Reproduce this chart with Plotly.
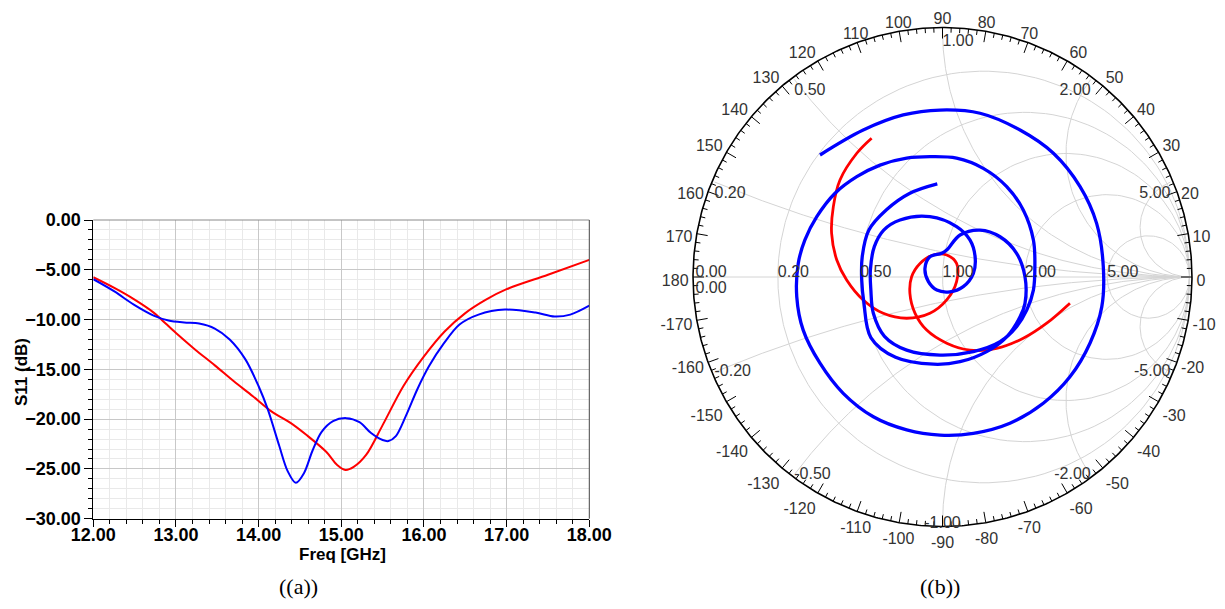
import numpy as np
import plotly.graph_objects as go

# ---------------- panel (a): S11 (dB) vs frequency ----------------
freq_red = [12.0, 12.26, 12.49, 12.73, 12.82, 13.0, 13.23, 13.47, 13.7, 13.93, 14.15, 14.39, 14.58,
            14.82, 14.95, 15.05, 15.15, 15.3, 15.5, 15.75, 16.0, 16.25, 16.5, 16.75, 17.0, 17.5, 18.0]
s11_red = [-5.75, -6.85, -7.95, -9.3, -9.96, -11.36, -13.0, -14.6, -16.2, -17.7, -19.2, -20.4, -21.6,
           -23.3, -24.6, -25.1, -24.8, -23.6, -20.6, -16.7, -13.7, -11.2, -9.35, -8.0, -6.95, -5.5, -4.0]

freq_blue = [12.0, 12.26, 12.49, 12.73, 12.91, 13.1, 13.28, 13.47, 13.65, 13.84, 14.0, 14.11, 14.25,
             14.35, 14.45, 14.55, 14.65, 14.76, 14.9, 15.06, 15.22, 15.36, 15.5, 15.57, 15.66, 15.78,
             15.92, 16.06, 16.24, 16.43, 16.66, 16.98, 17.35, 17.58, 17.77, 18.0]
s11_blue = [-5.95, -7.2, -8.5, -9.6, -10.1, -10.3, -10.4, -10.9, -12.0, -14.0, -16.7, -19.0, -22.7,
            -25.2, -26.4, -25.4, -23.2, -21.3, -20.2, -19.9, -20.3, -21.4, -22.1, -22.2, -21.7, -19.7,
            -17.0, -14.7, -12.4, -10.5, -9.5, -9.0, -9.3, -9.7, -9.5, -8.6]

freq_ticks = [12, 13, 14, 15, 16, 17, 18]
s11_ticks = [0, -5, -10, -15, -20, -25, -30]

# ---------------- panel (b): Smith chart (reflection coefficient) ----------------
blue_re = [-0.496, -0.321, -0.159, -0.010, 0.152, 0.314, 0.449, 0.557, 0.624, 0.651,
           0.645, 0.597, 0.516, 0.408, 0.273, 0.125, -0.010, -0.145, -0.280, -0.402,
           -0.496, -0.564, -0.590, -0.584, -0.557, -0.509, -0.435, -0.347, -0.253, -0.145,
           -0.051, 0.057, 0.165, 0.260, 0.327, 0.368, 0.374, 0.368, 0.341, 0.300,
           0.233, 0.125, -0.010, -0.145, -0.235, -0.280, -0.290, -0.292, -0.276, -0.238,
           -0.172, -0.051, 0.057, 0.111, 0.132, 0.125, 0.084, 0.030, -0.023, -0.057,
           -0.071, -0.051, -0.003, 0.017, 0.071, 0.152, 0.233, 0.300, 0.334, 0.334,
           0.314, 0.260, 0.179, 0.071, -0.037, -0.190, -0.290, -0.318, -0.327, -0.325,
           -0.298, -0.228, -0.132, -0.021]
blue_im = [0.494, 0.595, 0.656, 0.676, 0.663, 0.595, 0.501, 0.366, 0.217, 0.042,
           -0.120, -0.268, -0.404, -0.511, -0.592, -0.633, -0.640, -0.619, -0.566, -0.471,
           -0.349, -0.215, -0.080, 0.055, 0.150, 0.244, 0.339, 0.406, 0.453, 0.481,
           0.487, 0.481, 0.440, 0.366, 0.271, 0.150, 0.042, -0.053, -0.134, -0.201,
           -0.262, -0.302, -0.316, -0.296, -0.240, -0.147, -0.053, 0.028, 0.123, 0.190,
           0.231, 0.244, 0.204, 0.150, 0.082, 0.015, -0.039, -0.060, -0.053, -0.019,
           0.035, 0.082, 0.096, 0.109, 0.170, 0.190, 0.163, 0.096, 0.001, -0.106,
           -0.161, -0.242, -0.302, -0.343, -0.353, -0.325, -0.245, -0.106, -0.012, 0.082,
           0.190, 0.271, 0.339, 0.377]

red_re = [-0.287, -0.347, -0.415, -0.442, -0.449, -0.428, -0.388, -0.321, -0.240, -0.145,
          -0.051, 0.017, 0.057, 0.057, 0.017, -0.037, -0.091, -0.125, -0.132, -0.111,
          -0.064, 0.017, 0.111, 0.219, 0.327, 0.422, 0.516]
red_im = [0.562, 0.501, 0.393, 0.285, 0.177, 0.069, -0.012, -0.093, -0.147, -0.167,
          -0.147, -0.093, -0.019, 0.055, 0.089, 0.089, 0.055, 0.001, -0.066, -0.147,
          -0.215, -0.268, -0.296, -0.289, -0.248, -0.187, -0.106]

smith_r_ticks = [0.2, 0.5, 1.0, 2.0, 5.0]
smith_x_ticks = [0.2, 0.5, 1.0, 2.0, 5.0]
angle_ticks = list(range(-170, 190, 10))

# ---------------- geometry / styling ----------------
OFF = 8                                  # page body margin of the html page
W, H = 1225 - 2 * OFF, 609 - 2 * OFF     # figure size so the page does not overflow
CX, CY, SC = 942.5 - OFF, 277.0 - OFF, 247.0   # smith centre (px in figure) and px per unit
RING = 1.01
GRID = "#d4d4d4"
LBL = dict(family="Liberation Sans, Arial, sans-serif", size=16, color="#333333")


def px(X):
    return (X - OFF) / W


def py(Y):
    return 1 - (Y - OFF) / H


def z2g(z):
    return (z - 1) / (z + 1)


fig = go.Figure()

# ---- panel (a) curves
fig.add_trace(go.Scatter(x=freq_red, y=s11_red, mode="lines",
                         line=dict(color="#ff0000", width=2, shape="spline", smoothing=0.9),
                         hoverinfo="skip", xaxis="x", yaxis="y"))
fig.add_trace(go.Scatter(x=freq_blue, y=s11_blue, mode="lines",
                         line=dict(color="#0000ff", width=2, shape="spline", smoothing=0.9),
                         hoverinfo="skip", xaxis="x", yaxis="y"))

# ---- panel (b) grid
sweep = np.concatenate([-np.logspace(3, -3, 300), [0.0], np.logspace(-3, 3, 300)])
rpos = np.concatenate([[0.0], np.logspace(-3, 3.5, 400)])
gx, gy = [], []
for r in smith_r_ticks:
    g = z2g(r + 1j * sweep)
    gx += list(g.real) + [None]
    gy += list(g.imag) + [None]
for x in smith_x_ticks + [-v for v in smith_x_ticks]:
    g = z2g(rpos + 1j * x)
    gx += list(g.real) + [None]
    gy += list(g.imag) + [None]
gx += [-1.0, 1.0, None]
gy += [0.0, 0.0, None]
fig.add_trace(go.Scatter(x=gx, y=gy, mode="lines", line=dict(color=GRID, width=1),
                         hoverinfo="skip", xaxis="x2", yaxis="y2"))

# ---- panel (b) curves
fig.add_trace(go.Scatter(x=red_re, y=red_im, mode="lines",
                         line=dict(color="#ff0000", width=2.8, shape="spline", smoothing=1.0),
                         hoverinfo="skip", xaxis="x2", yaxis="y2"))
fig.add_trace(go.Scatter(x=blue_re, y=blue_im, mode="lines",
                         line=dict(color="#0000ff", width=3.3, shape="spline", smoothing=1.0),
                         hoverinfo="skip", xaxis="x2", yaxis="y2"))

# ---- outer ring with ticks
th = np.linspace(0, 2 * np.pi, 721)
fig.add_trace(go.Scatter(x=RING * np.cos(th), y=RING * np.sin(th), mode="lines",
                         line=dict(color="#000000", width=1.6), hoverinfo="skip",
                         xaxis="x2", yaxis="y2"))
tx, ty = [], []
for a in range(-178, 182, 2):
    t = np.deg2rad(a)
    ln = 11.0 / SC if a % 10 == 0 else 5.0 / SC
    tx += [RING * np.cos(t), (RING - ln) * np.cos(t), None]
    ty += [RING * np.sin(t), (RING - ln) * np.sin(t), None]
fig.add_trace(go.Scatter(x=tx, y=ty, mode="lines", line=dict(color="#000000", width=1),
                         hoverinfo="skip", xaxis="x2", yaxis="y2"))

# ---- angle labels
DY_ANG = -5.0 / SC
ax_, ay_, at_, ap_ = [], [], [], []
for a in angle_ticks:
    t = np.deg2rad(a)
    c, s = np.cos(t), np.sin(t)
    ax_.append(1.028 * c)
    ay_.append(1.028 * s + DY_ANG)
    at_.append(str(a))
    hz = "right" if c > 0.4 else ("left" if c < -0.4 else "center")
    vt = "top" if s > 0.4 else ("bottom" if s < -0.4 else "middle")
    ap_.append(vt + " " + hz)
fig.add_trace(go.Scatter(x=ax_, y=ay_, mode="text", text=at_, textposition=ap_,
                         textfont=LBL, cliponaxis=False, hoverinfo="skip",
                         xaxis="x2", yaxis="y2"))

# ---- resistance / reactance labels
DY_LBL = -4.0 / SC
lx, ly, lt, lp = [], [], [], []
for r in [0.0] + smith_r_ticks:
    g = z2g(complex(r, 0))
    lx.append(g.real); ly.append(DY_LBL); lt.append(f"{r:.2f}"); lp.append("top right")
g = z2g(0j)
lx.append(g.real); ly.append(DY_LBL); lt.append("0.00"); lp.append("bottom right")
for x in smith_x_ticks:
    g = z2g(1j * x)
    lx.append(g.real); ly.append(g.imag + DY_LBL); lt.append(f"{x:.2f}")
    lp.append("bottom right" if x <= 1 else "bottom left")
    g = z2g(-1j * x)
    lx.append(g.real); ly.append(g.imag); lt.append(f"{-x:.2f}")
    lp.append("middle right" if x < 1 else ("middle center" if x == 1 else "middle left"))
fig.add_trace(go.Scatter(x=lx, y=ly, mode="text", text=lt, textposition=lp,
                         textfont=LBL, cliponaxis=False, hoverinfo="skip",
                         xaxis="x2", yaxis="y2"))

# ---------------- layout ----------------
x2dom = [0.52, 1.0]
x2range = [-(CX - x2dom[0] * W) / SC, (x2dom[1] * W - CX) / SC]
y2range = [-(H - CY) / SC, CY / SC]

tickfont = dict(family="Liberation Sans, Arial, sans-serif", size=18, color="#000000", weight="bold")
titlefont = dict(family="Liberation Sans, Arial, sans-serif", size=17, color="#000000", weight="bold")
capfont = dict(family="Liberation Serif, DejaVu Serif, serif", size=22, color="#000000")

fig.update_layout(
    width=W, height=H, template="none",
    margin=dict(l=0, r=0, t=0, b=0, pad=0),
    paper_bgcolor="white", plot_bgcolor="white", showlegend=False,
    xaxis=dict(domain=[px(93.3), px(589.3)], range=[12, 18], tickvals=freq_ticks, tickformat=".2f",
               ticks="outside", ticklen=7, tickwidth=1, tickcolor="#000000", ticklabelstandoff=-7,
               showline=True, linecolor="#000000", linewidth=1, mirror=False,
               showgrid=True, gridcolor="#c8c8c8", gridwidth=1, zeroline=False,
               minor=dict(dtick=0.2, tick0=12, ticks="outside", ticklen=4, tickcolor="#000000",
                          showgrid=True, gridcolor="#e9e9e9"),
               tickfont=tickfont, automargin=False, fixedrange=True, anchor="y"),
    yaxis=dict(domain=[py(518.7), py(220)], range=[-30, 0], tickvals=s11_ticks, tickformat=".2f",
               ticks="outside", ticklen=8, tickwidth=1, tickcolor="#000000",
               showline=True, linecolor="#000000", linewidth=1, mirror=False,
               showgrid=True, gridcolor="#c8c8c8", gridwidth=1, zeroline=False,
               minor=dict(dtick=1, tick0=0, ticks="outside", ticklen=4, tickcolor="#000000",
                          showgrid=True, gridcolor="#e9e9e9"),
               tickfont=tickfont, automargin=False, fixedrange=True, anchor="x"),
    xaxis2=dict(domain=x2dom, range=x2range, visible=False, showgrid=False, zeroline=False,
                automargin=False, fixedrange=True, anchor="y2"),
    yaxis2=dict(domain=[0, 1], range=y2range, visible=False, showgrid=False, zeroline=False,
                automargin=False, fixedrange=True, anchor="x2"),
    shapes=[
        dict(type="line", xref="x domain", yref="y domain", x0=0, x1=1, y0=1, y1=1,
             line=dict(color="#8a8a8a", width=1)),
        dict(type="line", xref="x domain", yref="y domain", x0=1, x1=1, y0=0, y1=1,
             line=dict(color="#444444", width=1)),
    ],
    annotations=[
        dict(text="S11 (dB)", x=px(21), y=py(372), xref="paper", yref="paper", textangle=-90,
             xanchor="center", yanchor="middle", showarrow=False, font=titlefont),
        dict(text="Freq [GHz]", x=px(342), y=py(554), xref="paper", yref="paper",
             xanchor="center", yanchor="middle", showarrow=False, font=titlefont),
        dict(text="((a))", x=px(298), y=py(586), xref="paper", yref="paper",
             xanchor="center", yanchor="middle", showarrow=False, font=capfont),
        dict(text="((b))", x=px(940), y=py(586), xref="paper", yref="paper",
             xanchor="center", yanchor="middle", showarrow=False, font=capfont),
    ],
)

fig.write_html("out.html", config={"displayModeBar": False})
